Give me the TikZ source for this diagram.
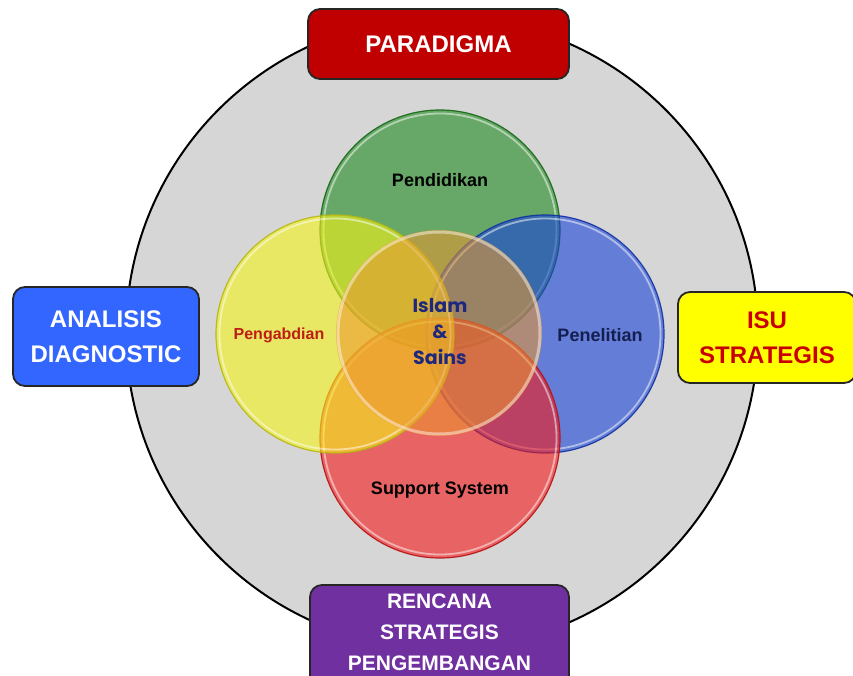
\documentclass[tikz,border=0pt]{standalone}
\usepackage{fontspec}
\setmainfont{Liberation Sans}
\newfontfamily\roundfont{Poppins}
\begin{document}
\begin{tikzpicture}[x=1pt,y=-1pt,
  outerdisc/.style={fill=bgGray,draw=black,line width=2pt},
  framebox/.style={rounded corners=12pt,draw=black!85,line width=1.8pt,
    minimum width=#1,inner sep=0pt,align=center,font=\bfseries\fontsize{24}{35}\selectfont},
  glass/.style={fill=#1,fill opacity=0.6,draw=#1!75!black,draw opacity=0.9,line width=1.2pt},
  rim/.style={draw=white,draw opacity=0.5,line width=1.8pt},
  lbl/.style={font=\bfseries\fontsize{18}{20}\selectfont}]
\definecolor{bgGray}{RGB}{214,214,214}
\definecolor{cGreen}{RGB}{29,137,29}
\definecolor{cYellow}{RGB}{244,244,24}
\definecolor{cBlue}{RGB}{24,66,215}
\definecolor{cRed}{RGB}{244,24,24}
\definecolor{cCore}{RGB}{236,150,45}
\definecolor{boxRed}{RGB}{192,0,0}
\definecolor{boxBlue}{RGB}{51,102,255}
\definecolor{boxYellow}{RGB}{255,255,0}
\definecolor{boxPurple}{RGB}{112,48,160}
\definecolor{txtRed}{RGB}{200,0,0}
\definecolor{pengRed}{RGB}{190,30,20}
\definecolor{navy}{RGB}{20,30,80}
\definecolor{coreBlue}{RGB}{30,40,125}

\useasboundingbox (0,0) rectangle (853,676);
\fill[white] (0,0) rectangle (853,676);

% big grey disc
\draw[outerdisc] (442,333) circle[radius=316];

% four overlapping petals (stacking: green, blue, red, yellow)
\path[glass=cGreen]  (440,230) circle[radius=120];
\path[rim] (440,230) circle[radius=116.5];
\path[glass=cBlue]   (545,334) circle[radius=119];
\path[rim] (545,334) circle[radius=115.5];
\path[glass=cRed]    (440,438) circle[radius=120];
\path[rim] (440,438) circle[radius=116.5];
\path[glass=cYellow] (335,334) circle[radius=119];
\path[rim] (335,334) circle[radius=115.5];

% central core
\path[fill=cCore,fill opacity=0.55] (439,333) circle[radius=103];
\path[draw=white,draw opacity=0.45,line width=3pt] (439,333) circle[radius=101];

% petal labels
\node[lbl,text=black] (pend) at (440,180) {Pendidikan};
\node[lbl,text=navy] (pene) at (600,335) {Penelitian};
\node[font=\bfseries\fontsize{16}{18}\selectfont,text=pengRed] (peng) at (279,335) {Pengabdian};
\node[lbl,text=black] (supp) at (440,490) {Support System};
\node[font=\roundfont\bfseries\fontsize{19}{26}\selectfont,text=coreBlue,align=center]
  (core) at (440,332) {Islam\\\&\\Sains};

% framing boxes
\node[framebox=261pt,minimum height=70pt,fill=boxRed,text=white] (para) at (438.5,44) {PARADIGMA};
\node[framebox=186pt,minimum height=99pt,fill=boxBlue,text=white] (anal) at (106,336.5) {ANALISIS\\DIAGNOSTIC};
\node[framebox=178pt,minimum height=91pt,fill=boxYellow,text=txtRed] (isu) at (767,337.5) {ISU\\STRATEGIS};
\node[framebox=259pt,minimum height=110pt,fill=boxPurple] (renc) at (439.5,640) {};
\node[font=\bfseries\fontsize{21}{31}\selectfont,text=white,align=center] (renctxt) at (439.5,632)
  {RENCANA\\STRATEGIS\\PENGEMBANGAN};
\end{tikzpicture}
\end{document}
